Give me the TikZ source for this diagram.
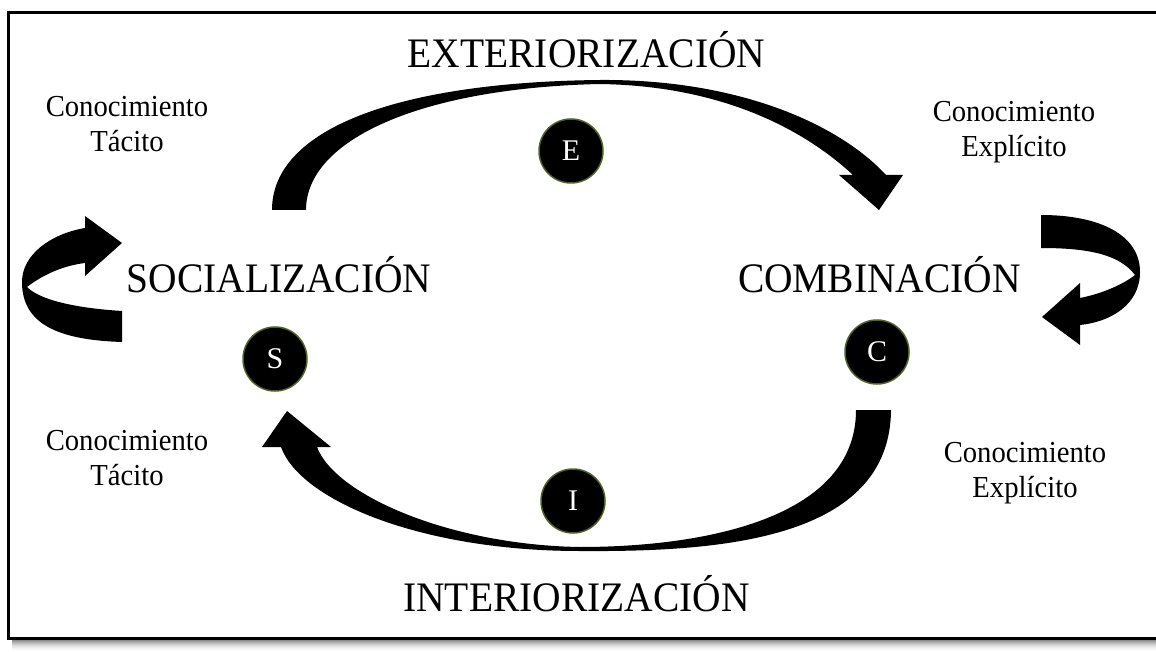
\documentclass[tikz,border=0pt]{standalone}
\usepackage{fontspec}
\setmainfont{Liberation Serif}
\newfontfamily\condserif[FakeStretch=0.94]{Liberation Serif}
\definecolor{olivering}{RGB}{79,98,40}
\tikzset{
  bigtext/.style={anchor=base, inner sep=0pt, font=\condserif\fontsize{42}{42}\selectfont},
  smalltext/.style={anchor=base, inner sep=0pt, font=\condserif\fontsize{30.5}{35}\selectfont},
  badge/.style={circle, fill=black, draw=olivering, line width=1.5pt, minimum size=64pt,
                inner sep=0pt, text=white, font=\fontsize{30}{30}\selectfont},
  ribbon/.style={fill=black, draw=none},
  frameline/.style={line width=3pt, line cap=rect},
}
\begin{document}
\begin{tikzpicture}[x=1pt,y=-1pt]
\useasboundingbox (0,0) rectangle (1156,652);
% shadow under the frame
\foreach \i/\g in {0/55,1/45,2/38,3/31,4/25,5/20,6/15,7/11,8/8,9/5,10/3,11/1}{
  \fill[black!\g] (12,639+\i) rectangle (1156,640+\i);
}
% frame
\draw[frameline] (1160,13) -- (8,13) -- (8,638) -- (1160,638);

% texts
\node[bigtext] (ext) at (586.5,68) {EXTERIORIZACIÓN};
\node[bigtext] (soc) at (279,293) {SOCIALIZACIÓN};
\node[bigtext] (com) at (879.5,293) {COMBINACIÓN};
\node[bigtext] (int) at (576.5,611) {INTERIORIZACIÓN};

\node[smalltext] (tla) at (127,117) {Conocimiento};
\node[smalltext] (tlb) at (127,152) {Tácito};
\node[smalltext] (tra) at (1014,122) {Conocimiento};
\node[smalltext] (trb) at (1014,157) {Explícito};
\node[smalltext] (bla) at (127,450) {Conocimiento};
\node[smalltext] (blb) at (127,485) {Tácito};
\node[smalltext] (bra) at (1025,462) {Conocimiento};
\node[smalltext] (brb) at (1025,497) {Explícito};

% badges
\node[badge] (E) at (571,151) {E};
\node[badge] (S) at (275,359) {S};
\node[badge] (C) at (877,352) {C};
\node[badge] (I) at (573,501) {I};

% top arrow (exteriorizacion)
\fill[ribbon] (272,210) .. controls (272,128) and (400,82) .. (600,80)
  .. controls (740,79) and (840,125) .. (886,175)
  -- (903,175) -- (879,210) -- (839,175) -- (853,175)
  .. controls (810,135) and (730,86) .. (600,84)
  .. controls (420,88) and (306,140) .. (306,210) -- cycle;

% bottom arrow (interiorizacion)
\fill[ribbon] (891,410) .. controls (890,540) and (720,552) .. (580,551)
  .. controls (420,551) and (300,500) .. (281,447)
  -- (262,447) -- (287,411) -- (331,447) -- (317,447)
  .. controls (335,495) and (450,545) .. (580,547)
  .. controls (700,547) and (856,520) .. (856,410) -- cycle;

% left loop (socializacion)
\fill[ribbon] (122,243) -- (85,216) -- (85,228)
  .. controls (50,234) and (22,255) .. (22,282)
  .. controls (22,325) and (60,340) .. (122,342)
  -- (122,311)
  .. controls (75,308) and (40,300) .. (27,287)
  .. controls (40,277) and (60,266) .. (85,263)
  -- (85,276) -- cycle;

% right loop (combinacion)
\fill[ribbon] (1041,215) .. controls (1100,215) and (1140,235) .. (1140,272)
  .. controls (1140,305) and (1110,322) .. (1080,325)
  -- (1080,345) -- (1042,317) -- (1080,283) -- (1080,298)
  .. controls (1105,293) and (1125,283) .. (1135,275)
  .. controls (1120,255) and (1090,248) .. (1041,248) -- cycle;
\end{tikzpicture}
\end{document}
